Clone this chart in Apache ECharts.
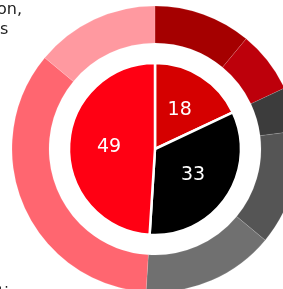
<!DOCTYPE html>
<html>
<head>
<meta charset="utf-8">
<script src="https://cdn.jsdelivr.net/npm/echarts@6/dist/echarts.min.js"></script>
<style>
  html, body { margin: 0; padding: 0; background: #fff; }
  #main { width: 283px; height: 289px; }
</style>
</head>
<body>
<div id="main"></div>
<script>
// inner pie
var groupNames = ["A", "B", "C"];
var groupValues = [18, 33, 49];
var groupColors = ["#d50000", "#000000", "#ff0013"];

// outer ring, clockwise from top
var subNames = ["A1", "A2", "B1", "B2", "B3", "C1", "C2"];
var subValues = [11, 7, 5, 13, 15, 35, 14];
var subColors = ["#a50000", "#bd000b", "#3c3c3c", "#555555", "#707070", "#ff6670", "#ff99a0"];

var chart = echarts.init(document.getElementById("main"));

var option = {
  animation: false,
  graphic: [
    {
      type: "text",
      right: 261,
      top: 2,
      style: { text: "on,", font: "16px 'DejaVu Sans'", fill: "#222", textAlign: "right" }
    },
    {
      type: "text",
      left: 0,
      top: 22,
      style: { text: "s", font: "16px 'DejaVu Sans'", fill: "#222" }
    },
    {
      type: "text",
      left: -2,
      top: 286,
      style: { text: "tion", font: "16px 'DejaVu Sans'", fill: "#222" }
    }
  ],
  series: [
    {
      name: "inner",
      type: "pie",
      center: [155, 149],
      radius: [0, 86],
      startAngle: 90,
      silent: true,
      itemStyle: { borderColor: "#fff", borderWidth: 2.5 },
      label: {
        show: true,
        position: "inside",
        formatter: "{c}",
        color: "#fff",
        fontSize: 19,
        fontFamily: "DejaVu Sans"
      },
      labelLine: { show: false },
      data: groupNames.map(function (n, i) {
        return { name: n, value: groupValues[i], itemStyle: { color: groupColors[i] } };
      })
    },
    {
      name: "outer",
      type: "pie",
      center: [155, 149],
      radius: [106, 143],
      startAngle: 90,
      silent: true,
      itemStyle: { borderColor: "rgba(255,255,255,0.25)", borderWidth: 0.5 },
      label: { show: false },
      labelLine: { show: false },
      data: subNames.map(function (n, i) {
        return { name: n, value: subValues[i], itemStyle: { color: subColors[i] } };
      })
    }
  ]
};

chart.setOption(option);
</script>
</body>
</html>
